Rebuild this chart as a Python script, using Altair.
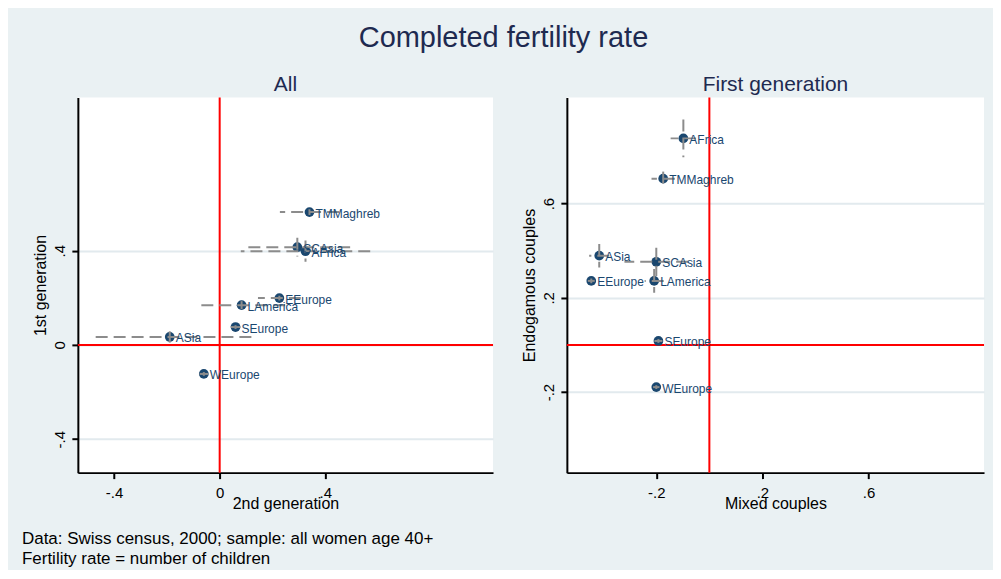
import altair as alt
import pandas as pd

# ---------------- data ----------------
REGIONS = ["AFrica", "TMMaghreb", "SCAsia", "ASia", "EEurope", "LAmerica", "SEurope", "WEurope"]

# Panel "All": x = 2nd generation, y = 1st generation
ALL_X    = [0.325, 0.340, 0.294, -0.189, 0.226, 0.083, 0.060, -0.060]
ALL_X_LO = [0.080, 0.228, 0.094, -0.490, 0.145, -0.082, 0.042, -0.076]
ALL_X_HI = [0.570, 0.452, 0.494, 0.120, 0.307, 0.248, 0.078, -0.044]
ALL_Y    = [0.398, 0.564, 0.415, 0.034, 0.199, 0.169, 0.076, -0.123]
ALL_Y_LO = [0.353, 0.552, 0.375, 0.010, 0.189, 0.152, 0.068, -0.131]
ALL_Y_HI = [0.443, 0.576, 0.455, 0.058, 0.209, 0.186, 0.084, -0.115]

# Panel "First generation": x = Mixed couples, y = Endogamous couples
FIRST_X    = [-0.098, -0.174, -0.200, -0.415, -0.445, -0.208, -0.192, -0.200]
FIRST_X_LO = [-0.146, -0.218, -0.320, -0.453, -0.458, -0.244, -0.207, -0.212]
FIRST_X_HI = [-0.050, -0.130, -0.080, -0.377, -0.432, -0.172, -0.177, -0.188]
FIRST_Y    = [0.877, 0.706, 0.353, 0.379, 0.272, 0.272, 0.017, -0.179]
FIRST_Y_LO = [0.797, 0.676, 0.293, 0.329, 0.262, 0.222, 0.009, -0.187]
FIRST_Y_HI = [0.957, 0.736, 0.413, 0.429, 0.282, 0.322, 0.025, -0.171]

REF = [0]

X_DOMAIN = [-0.537, 1.035]
Y_DOMAIN = [-0.542, 1.051]

ALL_TICKS = [-0.4, 0, 0.4]
ALL_TICK_LABELS = ["-.4", "0", ".4"]
FIRST_TICKS = [-0.2, 0.2, 0.6]
FIRST_TICK_LABELS = ["-.2", ".2", ".6"]

TITLE = "Completed fertility rate"
PANEL_TITLES = ["All", "First generation"]
X_TITLES = ["2nd generation", "Mixed couples"]
Y_TITLES = ["1st generation", "Endogamous couples"]
NOTES = ["Data: Swiss census, 2000; sample: all women age 40+",
         "Fertility rate = number of children"]

# ---------------- style ----------------
FONT = "Liberation Sans"
BG = "#eaf1f3"
NAVY = "#1a476f"
TITLE_COLOR = "#1e2a50"
GRID = "#e2eaee"
CI_GREY = "#8c8c8c"
W_LEFT, W_RIGHT, H = 416, 418, 376


def lab_expr(vals, labs):
    e = "''"
    for v, l in zip(reversed(vals), reversed(labs)):
        e = f"abs(datum.value - ({v})) < 1e-9 ? '{l}' : ({e})"
    return e


def panel(ptitle, xs, xlo, xhi, ys, ylo, yhi, ticks, tick_labels, xtitle, ytitle, width, notes=False):
    df = pd.DataFrame(dict(region=REGIONS, x=xs, xlo=xlo, xhi=xhi, y=ys, ylo=ylo, yhi=yhi))
    xsc = alt.Scale(domain=X_DOMAIN, nice=False, zero=False)
    ysc = alt.Scale(domain=Y_DOMAIN, nice=False, zero=False)
    common = dict(domainColor="black", domainWidth=2, tickColor="black", tickWidth=2, tickSize=6,
                  labelFont=FONT, labelFontSize=15, labelColor="black",
                  titleFont=FONT, titleFontSize=16, titleFontWeight="normal", titleColor="black")
    xaxis = alt.Axis(values=ticks, labelExpr=lab_expr(ticks, tick_labels), grid=False,
                     labelPadding=19, labelBaseline="alphabetic", labelFlush=False,
                     title=xtitle, titleX=width / 2, titleY=36, titleBaseline="alphabetic",
                     titleAlign="center", **common)
    yaxis = alt.Axis(values=ticks, labelExpr=lab_expr(ticks, tick_labels), grid=True,
                     gridColor=GRID, gridWidth=2, labelAngle=270, labelAlign="center",
                     labelBaseline="alphabetic", labelPadding=7, labelFlush=False,
                     title=ytitle, titleX=-32, titleY=H / 2, titleAngle=270,
                     titleBaseline="alphabetic", titleAlign="center", **common)

    def X(f):
        return alt.X(f, type="quantitative", scale=xsc, axis=xaxis)

    def Y(f):
        return alt.Y(f, type="quantitative", scale=ysc, axis=yaxis)

    base = alt.Chart(df)
    refdf = pd.DataFrame({"v": REF})
    vref = alt.Chart(refdf).mark_rule(color="#ff0000", strokeWidth=2).encode(x=X("v"))
    href = alt.Chart(refdf).mark_rule(color="#ff0000", strokeWidth=2).encode(y=Y("v"))
    pts = base.mark_circle(size=95, color=NAVY, opacity=1).encode(x=X("x"), y=Y("y"))
    hci = base.mark_rule(color=CI_GREY, strokeWidth=2, strokeDash=[12, 6]).encode(
        x=X("xhi"), x2="xlo", y=Y("y"))
    vci = base.mark_rule(color=CI_GREY, strokeWidth=2, strokeDash=[12, 6]).encode(
        y=Y("yhi"), y2="ylo", x=X("x"))
    labels = base.mark_text(align="left", baseline="middle", dx=6, dy=1.5, fontSize=12,
                            font=FONT, color=NAVY).encode(x=X("x"), y=Y("y"), text="region:N")
    layers = [vref, href, pts, hci, vci, labels]
    if notes:
        ndf = pd.DataFrame({"t": ["\n".join(NOTES)]})
        layers.append(alt.Chart(ndf).mark_text(align="left", baseline="alphabetic", lineBreak="\n",
                                               lineHeight=20, fontSize=17, font=FONT, color="black")
                      .encode(text="t:N", x=alt.value(-56), y=alt.value(448)))
    return alt.layer(*layers).properties(
        width=width, height=H,
        title=alt.Title(ptitle, font=FONT, fontSize=21, fontWeight="normal", color=TITLE_COLOR,
                        anchor="middle", frame="group", baseline="alphabetic", offset=-16))


left = panel(PANEL_TITLES[0], ALL_X, ALL_X_LO, ALL_X_HI, ALL_Y, ALL_Y_LO, ALL_Y_HI,
             ALL_TICKS, ALL_TICK_LABELS, X_TITLES[0], Y_TITLES[0], W_LEFT, notes=True)
right = panel(PANEL_TITLES[1], FIRST_X, FIRST_X_LO, FIRST_X_HI, FIRST_Y, FIRST_Y_LO, FIRST_Y_HI,
              FIRST_TICKS, FIRST_TICK_LABELS, X_TITLES[1], Y_TITLES[1], W_RIGHT)

chart = alt.hconcat(left, right, spacing=28).properties(
    title=alt.Title(TITLE, font=FONT, fontSize=29, fontWeight="normal", color=TITLE_COLOR,
                    anchor="middle", baseline="alphabetic", offset=-2),
    background=BG,
    padding={"left": 14, "right": 8, "top": 16, "bottom": 2},
).configure_view(stroke=None, fill="white")

chart.save("out.html", embed_options={"renderer": "svg", "actions": False})
